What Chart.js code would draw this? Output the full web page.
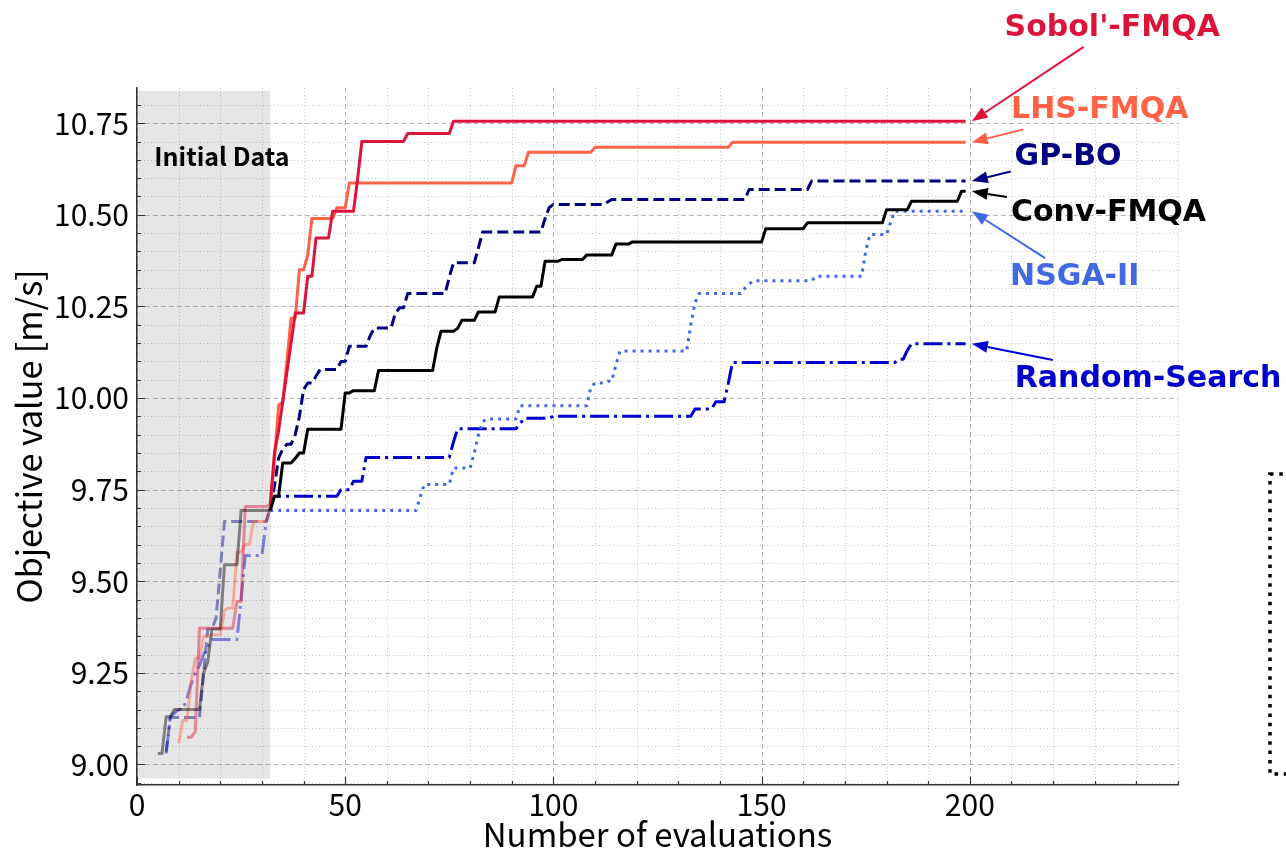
<!DOCTYPE html>
<html>
<head>
<meta charset="utf-8">
<title>Best objective value vs. number of evaluations</title>
<script src="https://cdn.jsdelivr.net/npm/chart.js@4.4.1/dist/chart.umd.min.js"></script>
<style>
  html, body { margin: 0; padding: 0; background: #fff; }
  #wrap { width: 1286px; height: 849px; }
</style>
</head>
<body>
<div id="wrap"><canvas id="bestChart" width="1286" height="849"></canvas></div>
<script>
// Best-so-far objective value [m/s] for each method.
// *Eval = evaluation at which a new best was found, *Best = that best value.
const sobolEval = [12, 14, 15, 24, 26, 32, 33, 34, 35, 36, 37, 38, 41, 43, 47, 53, 54, 65, 76];
const sobolBest = [9.074, 9.09, 9.372, 9.445, 9.704, 9.71, 9.85, 9.91, 9.99, 10.07, 10.15, 10.232,
                   10.332, 10.437, 10.51, 10.60, 10.70, 10.722, 10.755];

const lhsEval = [10, 11, 13, 14, 16, 18, 21, 22, 24, 26, 28, 32, 33, 34, 35, 36, 37, 39, 41, 42,
                 48, 51, 91, 94, 110, 143];
const lhsBest = [9.058, 9.12, 9.227, 9.29, 9.35, 9.354, 9.42, 9.427, 9.58, 9.60, 9.663, 9.70, 9.83,
                 9.98, 9.99, 10.10, 10.218, 10.35, 10.39, 10.49, 10.519, 10.587, 10.634, 10.671,
                 10.684, 10.698];

const gpEval = [7, 8, 16, 17, 19, 20, 21, 32, 33, 34, 35, 36, 38, 39, 40, 41, 43, 44, 49, 51, 56,
                57, 62, 63, 65, 75, 76, 82, 83, 98, 99, 100, 113, 114, 147, 162];
const gpBest = [9.035, 9.128, 9.25, 9.37, 9.40, 9.53, 9.663, 9.70, 9.76, 9.836, 9.86, 9.874, 9.90,
                9.95, 10.023, 10.041, 10.06, 10.078, 10.10, 10.141, 10.17, 10.191, 10.23, 10.246,
                10.285, 10.33, 10.369, 10.41, 10.453, 10.49, 10.52, 10.528, 10.535, 10.542,
                10.569, 10.592];

const convEval = [5, 7, 9, 16, 17, 18, 21, 25, 33, 35, 38, 39, 41, 50, 52, 58, 72, 73, 77, 78, 82,
                  87, 96, 98, 102, 108, 115, 119, 151, 161, 180, 186, 198];
const convBest = [9.03, 9.13, 9.15, 9.25, 9.28, 9.37, 9.545, 9.693, 9.732, 9.823, 9.835, 9.85,
                  9.915, 10.014, 10.02, 10.075, 10.137, 10.182, 10.19, 10.212, 10.235, 10.276,
                  10.305, 10.373, 10.378, 10.39, 10.42, 10.426, 10.462, 10.478, 10.514, 10.537,
                  10.564];

const nsgaEval = [32, 68, 69, 76, 81, 82, 83, 84, 92, 109, 110, 113, 115, 116, 133, 134, 135, 146,
                  147, 148, 163, 175, 176, 181, 182];
const nsgaBest = [9.693, 9.73, 9.764, 9.809, 9.85, 9.90, 9.935, 9.943, 9.979, 10.03, 10.041, 10.046,
                  10.09, 10.128, 10.2, 10.26, 10.285, 10.30, 10.31, 10.32, 10.332, 10.40, 10.446,
                  10.48, 10.51];

const randomEval = [7, 8, 9, 10, 12, 13, 14, 15, 16, 17, 18, 25, 26, 31, 32, 33, 49, 52, 55, 76, 77,
                    92, 93, 100, 134, 139, 142, 143, 183, 185, 186];
const randomBest = [9.03, 9.13, 9.14, 9.15, 9.18, 9.22, 9.25, 9.27, 9.30, 9.32, 9.341, 9.45, 9.57,
                    9.66, 9.70, 9.732, 9.75, 9.773, 9.838, 9.88, 9.916, 9.93, 9.945, 9.95, 9.97,
                    9.99, 10.04, 10.097, 10.106, 10.13, 10.148];

const lastEval = 199;        // last evaluation of every run
const initialSamples = 32;   // evaluations used for the initial data set
const arrowAt = 200;         // arrows point at the curves here

const xTickValues = [0, 50, 100, 150, 200];
const yTickValues = [9.00, 9.25, 9.50, 9.75, 10.00, 10.25, 10.50, 10.75];

const methodNames = ["Sobol'-FMQA", "LHS-FMQA", "GP-BO", "Conv-FMQA", "NSGA-II", "Random-Search"];
const methodEvals = [sobolEval, lhsEval, gpEval, convEval, nsgaEval, randomEval];
const methodBests = [sobolBest, lhsBest, gpBest, convBest, nsgaBest, randomBest];

// styles
const methodColors = ["#DC143C", "#FF6347", "#000080", "#000000", "#4169E1", "#0000CD"];
const methodDashes = [[], [], [11, 5], [], [3, 5], [19, 5, 3, 5]];
const methodOrder = [1, 2, 3, 0, 4, 5];
// where each method name sits, in axis units
const nameX = [234.2, 231.2, 223.6, 233.3, 225.2, 242.8];
const nameY = [11.010, 10.785, 10.657, 10.503, 10.330, 10.052];

function fadeColor(hex, alpha) {
    const n = parseInt(hex.slice(1), 16);
    return `rgba(${(n >> 16) & 255}, ${(n >> 8) & 255}, ${n & 255}, ${alpha})`;
}

// turn the improvement list into a best-so-far step curve
function stepPoints(evals, best) {
    const pts = [];
    for (let i = 0; i < evals.length; i++) {
        pts.push({ x: evals[i], y: best[i] });
        const holdUntil = i + 1 < evals.length ? evals[i + 1] - 1 : lastEval;
        if (holdUntil > evals[i]) pts.push({ x: holdUntil, y: best[i] });
    }
    return pts;
}

const datasets = methodNames.map((name, i) => {
    const faded = fadeColor(methodColors[i], 0.45);
    return {
        label: name,
        data: stepPoints(methodEvals[i], methodBests[i]),
        borderColor: methodColors[i],
        borderWidth: 3,
        borderDash: methodDashes[i],
        borderJoinStyle: "round",
        pointRadius: 0,
        tension: 0,
        fill: false,
        order: methodOrder[i],
        segment: {
            borderColor: (ctx) => (ctx.p1.parsed.x <= initialSamples ? faded : undefined),
        },
    };
});

// grid, shaded initial-data band
const backdropPlugin = {
    id: "backdrop",
    beforeDraw(chart) {
        const { ctx, chartArea: a, scales: { x, y } } = chart;
        ctx.save();
        ctx.fillStyle = "#fff";
        ctx.fillRect(0, 0, chart.width, chart.height);

        ctx.lineWidth = 1;
        // minor grid
        ctx.strokeStyle = "rgba(0,0,0,0.22)";
        ctx.setLineDash([1, 2.5]);
        ctx.beginPath();
        for (let i = 179; i <= 216; i++) {
            if (i % 5 === 0) continue;
            const py = Math.round(y.getPixelForValue(i * 0.05)) + 0.5;
            if (py < a.top || py > a.bottom) continue;
            ctx.moveTo(a.left, py);
            ctx.lineTo(a.right, py);
        }
        for (let v = 10; v <= 250; v += 10) {
            if (v % 50 === 0 && v <= 200) continue;
            const px = Math.round(x.getPixelForValue(v)) + 0.5;
            ctx.moveTo(px, a.top);
            ctx.lineTo(px, a.bottom);
        }
        ctx.stroke();

        // major grid
        ctx.strokeStyle = "rgba(0,0,0,0.28)";
        ctx.setLineDash([5, 3]);
        ctx.beginPath();
        yTickValues.forEach((v) => {
            const py = Math.round(y.getPixelForValue(v)) + 0.5;
            ctx.moveTo(a.left, py);
            ctx.lineTo(a.right, py);
        });
        xTickValues.forEach((v) => {
            const px = Math.round(x.getPixelForValue(v)) + 0.5;
            ctx.moveTo(px, a.top);
            ctx.lineTo(px, a.bottom);
        });
        ctx.stroke();
        ctx.setLineDash([]);

        // initial data band
        const x0 = x.getPixelForValue(0), x1 = x.getPixelForValue(initialSamples);
        const y0 = y.getPixelForValue(10.838), y1 = y.getPixelForValue(8.962);
        ctx.fillStyle = "rgba(128,128,128,0.2)";
        ctx.fillRect(x0, y0, x1 - x0, y1 - y0);
        ctx.restore();
    },
};

function drawArrow(ctx, x0, y0, x1, y1, color) {
    const ang = Math.atan2(y1 - y0, x1 - x0);
    const headLen = 16, headHalf = 6;
    const bx = x1 - headLen * Math.cos(ang), by = y1 - headLen * Math.sin(ang);
    ctx.strokeStyle = color;
    ctx.fillStyle = color;
    ctx.lineWidth = 2;
    ctx.beginPath();
    ctx.moveTo(x0, y0);
    ctx.lineTo(bx, by);
    ctx.stroke();
    ctx.beginPath();
    ctx.moveTo(x1, y1);
    ctx.lineTo(bx + headHalf * Math.sin(ang), by - headHalf * Math.cos(ang));
    ctx.lineTo(bx - headHalf * Math.sin(ang), by + headHalf * Math.cos(ang));
    ctx.closePath();
    ctx.fill();
}

// method names with arrows, and the "Initial Data" caption
const labelPlugin = {
    id: "methodLabels",
    afterDatasetsDraw(chart) {
        const { ctx, scales: { x, y } } = chart;
        ctx.save();
        ctx.textAlign = "center";
        ctx.textBaseline = "middle";

        ctx.font = 'bold 25px "Noto Sans CJK JP"';
        ctx.fillStyle = "#000";
        ctx.fillText("Initial Data", x.getPixelForValue(20.4), y.getPixelForValue(10.66));

        ctx.font = 'bold 30px "DejaVu Sans"';
        methodNames.forEach((name, i) => {
            const best = methodBests[i];
            const tx = x.getPixelForValue(nameX[i]), ty = y.getPixelForValue(nameY[i]);
            const px = x.getPixelForValue(arrowAt) + 2, py = y.getPixelForValue(best[best.length - 1]);
            const halfW = ctx.measureText(name).width / 2 + 4, halfH = 19;
            const dx = px - tx, dy = py - ty;
            const t = Math.min(dx ? halfW / Math.abs(dx) : Infinity, dy ? halfH / Math.abs(dy) : Infinity);
            drawArrow(ctx, tx + dx * t, ty + dy * t, px, py, methodColors[i]);
            ctx.fillStyle = methodColors[i];
            ctx.fillText(name, tx, ty);
        });
        ctx.restore();
    },
};

// inward tick marks and the dotted frame on the right
const tickPlugin = {
    id: "innerTicks",
    afterDraw(chart) {
        const { ctx, chartArea: a, scales: { x, y } } = chart;
        ctx.save();
        ctx.strokeStyle = "#333";
        ctx.lineWidth = 1.2;
        ctx.beginPath();
        for (let i = 179; i <= 216; i++) {
            const py = Math.round(y.getPixelForValue(i * 0.05)) + 0.5;
            if (py < a.top || py > a.bottom) continue;
            ctx.moveTo(a.left, py);
            ctx.lineTo(a.left + (i % 5 === 0 ? 8 : 4), py);
        }
        for (let v = 0; v <= 250; v += 10) {
            const px = Math.round(x.getPixelForValue(v)) + 0.5;
            ctx.moveTo(px, a.bottom);
            ctx.lineTo(px, a.bottom - (v % 50 === 0 && v <= 200 ? 8 : 4));
        }
        ctx.stroke();

        ctx.strokeStyle = "#000";
        ctx.lineWidth = 3.5;
        ctx.setLineDash([3.5, 5.8]);
        ctx.strokeRect(1270, 474, 40, 300);
        ctx.restore();
    },
};

Chart.defaults.font.family = '"Noto Sans CJK JP", "Noto Sans", sans-serif';
Chart.defaults.color = "#000";

new Chart(document.getElementById("bestChart"), {
    type: "line",
    data: { datasets: datasets },
    options: {
        responsive: false,
        animation: false,
        devicePixelRatio: 1,
        layout: { padding: { top: 88, right: 108, left: 0, bottom: 0 } },
        plugins: {
            legend: { display: false },
            tooltip: { enabled: false },
        },
        scales: {
            x: {
                type: "linear",
                min: 0,
                max: 250,
                afterBuildTicks: (scale) => {
                    scale.ticks = xTickValues.map((v) => ({ value: v }));
                },
                afterFit: (scale) => {
                    scale.height = 64;
                },
                grid: { display: false, drawTicks: false },
                border: { display: true, color: "#333", width: 1.5 },
                ticks: {
                    font: { size: 30 },
                    padding: 2,
                    maxRotation: 0,
                    autoSkip: false,
                    callback: (v) => String(v),
                },
                title: {
                    display: true,
                    text: "Number of evaluations",
                    font: { size: 33, lineHeight: 0.8 },
                    padding: { top: 0, bottom: 1 },
                },
            },
            y: {
                type: "linear",
                min: 8.944,
                max: 10.846,
                afterBuildTicks: (scale) => {
                    scale.ticks = yTickValues.map((v) => ({ value: v }));
                },
                afterFit: (scale) => {
                    scale.width = 137;
                },
                grid: { display: false, drawTicks: false },
                border: { display: true, color: "#333", width: 1.5 },
                ticks: {
                    font: { size: 30 },
                    padding: 8,
                    autoSkip: false,
                    callback: (v) => Number(v).toFixed(2),
                },
                title: {
                    display: true,
                    text: "Objective value [m/s]",
                    font: { size: 34, lineHeight: 0.8 },
                    padding: { top: 15, bottom: 0 },
                },
            },
        },
    },
    plugins: [backdropPlugin, labelPlugin, tickPlugin],
});
</script>
</body>
</html>
